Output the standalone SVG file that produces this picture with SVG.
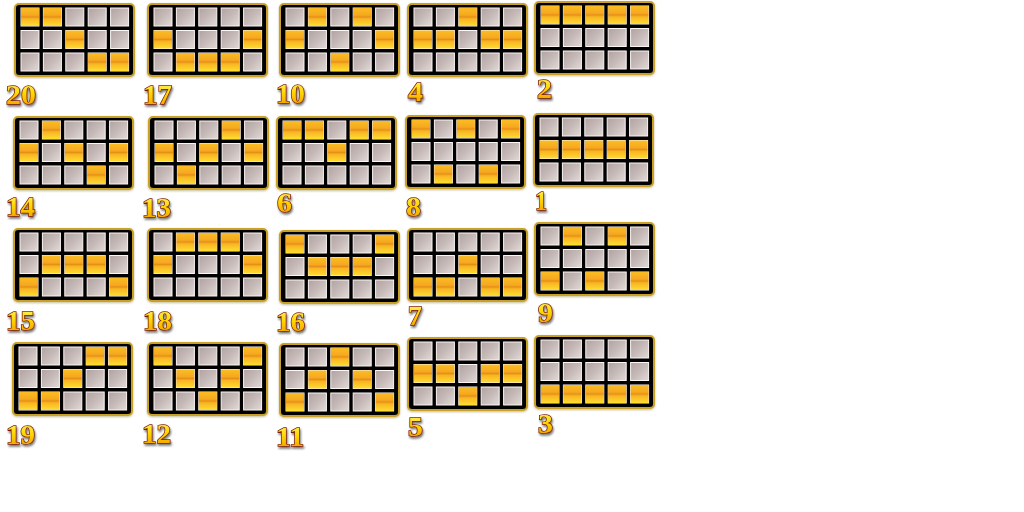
<svg xmlns="http://www.w3.org/2000/svg" xmlns:xlink="http://www.w3.org/1999/xlink" width="1024" height="512" viewBox="0 0 1024 512">
<defs>
<linearGradient id="silverG" x1="0" y1="0" x2="1" y2="1">
<stop offset="0" stop-color="#b0a2a0"/>
<stop offset="0.5" stop-color="#c6bab8"/>
<stop offset="1" stop-color="#e2dad8"/>
</linearGradient>
<linearGradient id="goldG" x1="0" y1="0" x2="0" y2="1">
<stop offset="0" stop-color="#fbbd22"/>
<stop offset="0.4" stop-color="#f6a820"/>
<stop offset="0.5" stop-color="#e6901a"/>
<stop offset="0.6" stop-color="#f8b422"/>
<stop offset="1" stop-color="#ffdc30"/>
</linearGradient>
<linearGradient id="txtG" x1="0" y1="0" x2="0" y2="1">
<stop offset="0" stop-color="#fff680"/>
<stop offset="0.45" stop-color="#ffd800"/>
<stop offset="1" stop-color="#f09000"/>
</linearGradient>
<filter id="sh" x="-30%" y="-30%" width="160%" height="170%">
<feDropShadow dx="1" dy="2" stdDeviation="1.3" flood-color="#000" flood-opacity="0.55"/>
</filter>
<filter id="glow" x="-10%" y="-10%" width="120%" height="125%">
<feDropShadow dx="0" dy="1" stdDeviation="1.2" flood-color="#8a7a30" flood-opacity="0.5"/>
</filter>
<rect id="s" width="18" height="18" fill="url(#silverG)" stroke="#fbf5f4" stroke-width="1"/>
<rect id="g" width="18" height="18" fill="url(#goldG)"/>
<g id="card">
<rect x="1" y="1" width="119" height="72" rx="4" fill="#060606" stroke="#c8a126" stroke-width="2" filter="url(#glow)"/>
<use href="#s" x="7" y="5"/><use href="#s" x="29.4" y="5"/><use href="#s" x="51.8" y="5"/><use href="#s" x="74.2" y="5"/><use href="#s" x="96.6" y="5"/>
<use href="#s" x="7" y="27.5"/><use href="#s" x="29.4" y="27.5"/><use href="#s" x="51.8" y="27.5"/><use href="#s" x="74.2" y="27.5"/><use href="#s" x="96.6" y="27.5"/>
<use href="#s" x="7" y="50"/><use href="#s" x="29.4" y="50"/><use href="#s" x="51.8" y="50"/><use href="#s" x="74.2" y="50"/><use href="#s" x="96.6" y="50"/>
</g>
</defs>
<style>
.n{font-family:"Liberation Serif","DejaVu Serif",serif;font-weight:bold;font-size:27px;fill:url(#txtG);stroke:#7a1e00;stroke-width:1.4;paint-order:stroke fill;filter:url(#sh)}
</style>
<rect width="1024" height="512" fill="#ffffff"/>

<g id="line-20"><g transform="translate(14,3)"><use href="#card"/><use href="#g" x="7" y="5"/><use href="#g" x="29.4" y="5"/><use href="#g" x="51.8" y="27.5"/><use href="#g" x="74.2" y="50"/><use href="#g" x="96.6" y="50"/></g><text class="n" x="6" y="104" textLength="30" lengthAdjust="spacingAndGlyphs">20</text></g>
<g id="line-17"><g transform="translate(147,3)"><use href="#card"/><use href="#g" x="7" y="27.5"/><use href="#g" x="96.6" y="27.5"/><use href="#g" x="29.4" y="50"/><use href="#g" x="51.8" y="50"/><use href="#g" x="74.2" y="50"/></g><text class="n" x="143" y="104" textLength="29" lengthAdjust="spacingAndGlyphs">17</text></g>
<g id="line-10"><g transform="translate(279,3)"><use href="#card"/><use href="#g" x="29.4" y="5"/><use href="#g" x="74.2" y="5"/><use href="#g" x="7" y="27.5"/><use href="#g" x="96.6" y="27.5"/><use href="#g" x="51.8" y="50"/></g><text class="n" x="276" y="103" textLength="29" lengthAdjust="spacingAndGlyphs">10</text></g>
<g id="line-4"><g transform="translate(407,3)"><use href="#card"/><use href="#g" x="51.8" y="5"/><use href="#g" x="7" y="27.5"/><use href="#g" x="29.4" y="27.5"/><use href="#g" x="74.2" y="27.5"/><use href="#g" x="96.6" y="27.5"/></g><text class="n" x="408" y="101" textLength="15" lengthAdjust="spacingAndGlyphs">4</text></g>
<g id="line-2"><g transform="translate(534,1)"><use href="#card"/><use href="#g" x="7" y="5"/><use href="#g" x="29.4" y="5"/><use href="#g" x="51.8" y="5"/><use href="#g" x="74.2" y="5"/><use href="#g" x="96.6" y="5"/></g><text class="n" x="537" y="98" textLength="15" lengthAdjust="spacingAndGlyphs">2</text></g>

<g id="line-14"><g transform="translate(13,116)"><use href="#card"/><use href="#g" x="29.4" y="5"/><use href="#g" x="7" y="27.5"/><use href="#g" x="51.8" y="27.5"/><use href="#g" x="96.6" y="27.5"/><use href="#g" x="74.2" y="50"/></g><text class="n" x="6" y="216" textLength="29" lengthAdjust="spacingAndGlyphs">14</text></g>
<g id="line-13"><g transform="translate(148,116)"><use href="#card"/><use href="#g" x="74.2" y="5"/><use href="#g" x="7" y="27.5"/><use href="#g" x="51.8" y="27.5"/><use href="#g" x="96.6" y="27.5"/><use href="#g" x="29.4" y="50"/></g><text class="n" x="142" y="217" textLength="29" lengthAdjust="spacingAndGlyphs">13</text></g>
<g id="line-6"><g transform="translate(276,116)"><use href="#card"/><use href="#g" x="7" y="5"/><use href="#g" x="29.4" y="5"/><use href="#g" x="74.2" y="5"/><use href="#g" x="96.6" y="5"/><use href="#g" x="51.8" y="27.5"/></g><text class="n" x="277" y="212" textLength="15" lengthAdjust="spacingAndGlyphs">6</text></g>
<g id="line-8"><g transform="translate(405,115)"><use href="#card"/><use href="#g" x="7" y="5"/><use href="#g" x="51.8" y="5"/><use href="#g" x="96.6" y="5"/><use href="#g" x="29.4" y="50"/><use href="#g" x="74.2" y="50"/></g><text class="n" x="406" y="216" textLength="15" lengthAdjust="spacingAndGlyphs">8</text></g>
<g id="line-1"><g transform="translate(533,113)"><use href="#card"/><use href="#g" x="7" y="27.5"/><use href="#g" x="29.4" y="27.5"/><use href="#g" x="51.8" y="27.5"/><use href="#g" x="74.2" y="27.5"/><use href="#g" x="96.6" y="27.5"/></g><text class="n" x="535" y="210" textLength="12" lengthAdjust="spacingAndGlyphs">1</text></g>

<g id="line-15"><g transform="translate(13,228)"><use href="#card"/><use href="#g" x="29.4" y="27.5"/><use href="#g" x="51.8" y="27.5"/><use href="#g" x="74.2" y="27.5"/><use href="#g" x="7" y="50"/><use href="#g" x="96.6" y="50"/></g><text class="n" x="6" y="330" textLength="29" lengthAdjust="spacingAndGlyphs">15</text></g>
<g id="line-18"><g transform="translate(147,228)"><use href="#card"/><use href="#g" x="29.4" y="5"/><use href="#g" x="51.8" y="5"/><use href="#g" x="74.2" y="5"/><use href="#g" x="7" y="27.5"/><use href="#g" x="96.6" y="27.5"/></g><text class="n" x="143" y="330" textLength="29" lengthAdjust="spacingAndGlyphs">18</text></g>
<g id="line-16"><g transform="translate(279,230)"><use href="#card"/><use href="#g" x="7" y="5"/><use href="#g" x="96.6" y="5"/><use href="#g" x="29.4" y="27.5"/><use href="#g" x="51.8" y="27.5"/><use href="#g" x="74.2" y="27.5"/></g><text class="n" x="276" y="331" textLength="29" lengthAdjust="spacingAndGlyphs">16</text></g>
<g id="line-7"><g transform="translate(407,228)"><use href="#card"/><use href="#g" x="51.8" y="27.5"/><use href="#g" x="7" y="50"/><use href="#g" x="29.4" y="50"/><use href="#g" x="74.2" y="50"/><use href="#g" x="96.6" y="50"/></g><text class="n" x="408" y="325" textLength="14" lengthAdjust="spacingAndGlyphs">7</text></g>
<g id="line-9"><g transform="translate(534,222)"><use href="#card"/><use href="#g" x="29.4" y="5"/><use href="#g" x="74.2" y="5"/><use href="#g" x="7" y="50"/><use href="#g" x="51.8" y="50"/><use href="#g" x="96.6" y="50"/></g><text class="n" x="538" y="322" textLength="15" lengthAdjust="spacingAndGlyphs">9</text></g>

<g id="line-19"><g transform="translate(12,342)"><use href="#card"/><use href="#g" x="74.2" y="5"/><use href="#g" x="96.6" y="5"/><use href="#g" x="51.8" y="27.5"/><use href="#g" x="7" y="50"/><use href="#g" x="29.4" y="50"/></g><text class="n" x="6" y="444" textLength="29" lengthAdjust="spacingAndGlyphs">19</text></g>
<g id="line-12"><g transform="translate(147,342)"><use href="#card"/><use href="#g" x="7" y="5"/><use href="#g" x="96.6" y="5"/><use href="#g" x="29.4" y="27.5"/><use href="#g" x="74.2" y="27.5"/><use href="#g" x="51.8" y="50"/></g><text class="n" x="142" y="443" textLength="29" lengthAdjust="spacingAndGlyphs">12</text></g>
<g id="line-11"><g transform="translate(279,343)"><use href="#card"/><use href="#g" x="51.8" y="5"/><use href="#g" x="29.4" y="27.5"/><use href="#g" x="74.2" y="27.5"/><use href="#g" x="7" y="50"/><use href="#g" x="96.6" y="50"/></g><text class="n" x="276" y="446" textLength="28" lengthAdjust="spacingAndGlyphs">11</text></g>
<g id="line-5"><g transform="translate(407,337)"><use href="#card"/><use href="#g" x="7" y="27.5"/><use href="#g" x="29.4" y="27.5"/><use href="#g" x="74.2" y="27.5"/><use href="#g" x="96.6" y="27.5"/><use href="#g" x="51.8" y="50"/></g><text class="n" x="408" y="436" textLength="15" lengthAdjust="spacingAndGlyphs">5</text></g>
<g id="line-3"><g transform="translate(534,335)"><use href="#card"/><use href="#g" x="7" y="50"/><use href="#g" x="29.4" y="50"/><use href="#g" x="51.8" y="50"/><use href="#g" x="74.2" y="50"/><use href="#g" x="96.6" y="50"/></g><text class="n" x="538" y="433" textLength="15" lengthAdjust="spacingAndGlyphs">3</text></g>
</svg>
